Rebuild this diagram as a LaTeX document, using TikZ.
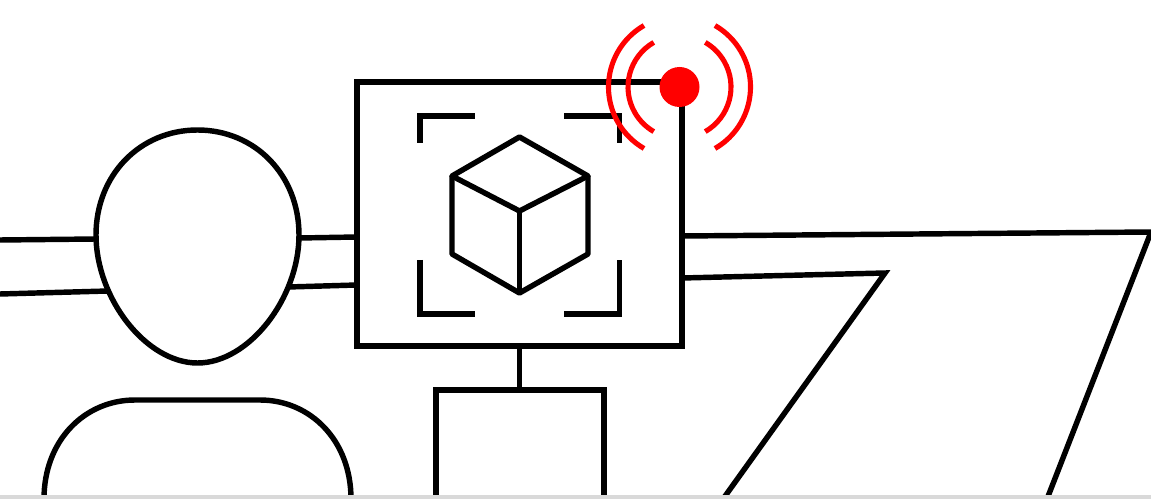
\documentclass[tikz,border=0pt]{standalone}
\usepackage[dvipsnames]{xcolor}
\usetikzlibrary{positioning}
\definecolor{footgray}{HTML}{D9D9D9}
\tikzset{
  outline/.style={line width=3.1pt, black, line join=miter},
  wave/.style={line width=2.9pt, red},
}
\begin{document}
\begin{tikzpicture}[x=0.02cm, y=-0.02cm]
  \useasboundingbox (0,0) rectangle (1151,499);
  \clip (0,0) rectangle (1151,499);

  % Head and shoulders
  \coordinate (headtop) at (197.5,130);
  \draw[outline] (headtop) .. controls (255,130) and (299,175) .. (299,235)
       .. controls (299,298) and (249,363) .. (197.5,363)
       .. controls (146,363) and (96,298) .. (96,235)
       .. controls (96,175) and (140,130) .. (headtop) -- cycle;
  \draw[outline] (44,499) .. controls (44,440) and (85,400) .. (135,400) -- (260,400)
       .. controls (310,400) and (351,440) .. (351,499);

  % Arms
  \draw[outline] (0,240) -- (96,239);
  \draw[outline] (0,294) -- (108,291);
  \draw[outline] (299,238) -- (357,237);
  \draw[outline] (288,287) -- (357,285);

  % Device
  \node[outline, draw, anchor=north west, inner sep=0pt, outer sep=0pt,
        minimum width=6.5cm, minimum height=5.28cm] (device) at (357,82) {};
  \node[outline, draw, anchor=north west, inner sep=0pt, outer sep=0pt,
        minimum width=3.36cm, minimum height=2.4cm] (base) at (436,390) {};
  \draw[outline] (device.south) -- (device.south |- base.north);

  % Table
  \draw[outline] (682,236) -- (1151,232) -- (1047,499);
  \draw[outline] (682,278) -- (885,273) -- (723,499);

  % Corners
  \draw[outline] (420,143) |- (475,116);
  \draw[outline] (564,116) -| (619.5,143);
  \draw[outline] (420,260) |- (475,314);
  \draw[outline] (564,314) -| (619.5,260);

  % Cube
  \coordinate (cubetop) at (519.5,137);
  \coordinate (cubeleft) at (452,176);
  \coordinate (cuberight) at (588,176);
  \coordinate (cubemid) at (519.5,211);
  \coordinate (cubebot) at (519.5,293);
  \draw[outline, line join=round] (cubeleft) -- (cubetop) -- (cuberight) -- (cubemid) -- cycle;
  \draw[outline, line join=round] (cubeleft) -- (452,254) -- (cubebot) -- (588,254) -- (cuberight);
  \draw[outline] (cubemid) -- (cubebot);

  % Signal
  \coordinate (dot) at (679.5,87);
  \fill[red] (dot) circle (0.4cm);
  \foreach \r in {1.03,1.42}{
    \draw[wave] (dot) ++(120:\r cm) arc[start angle=120, end angle=240, radius=\r cm];
    \draw[wave] (dot) ++(-60:\r cm) arc[start angle=-60, end angle=60, radius=\r cm];
  }

  % Bottom strip
  \fill[footgray] (0,495) rectangle (1151,499);
\end{tikzpicture}
\end{document}
